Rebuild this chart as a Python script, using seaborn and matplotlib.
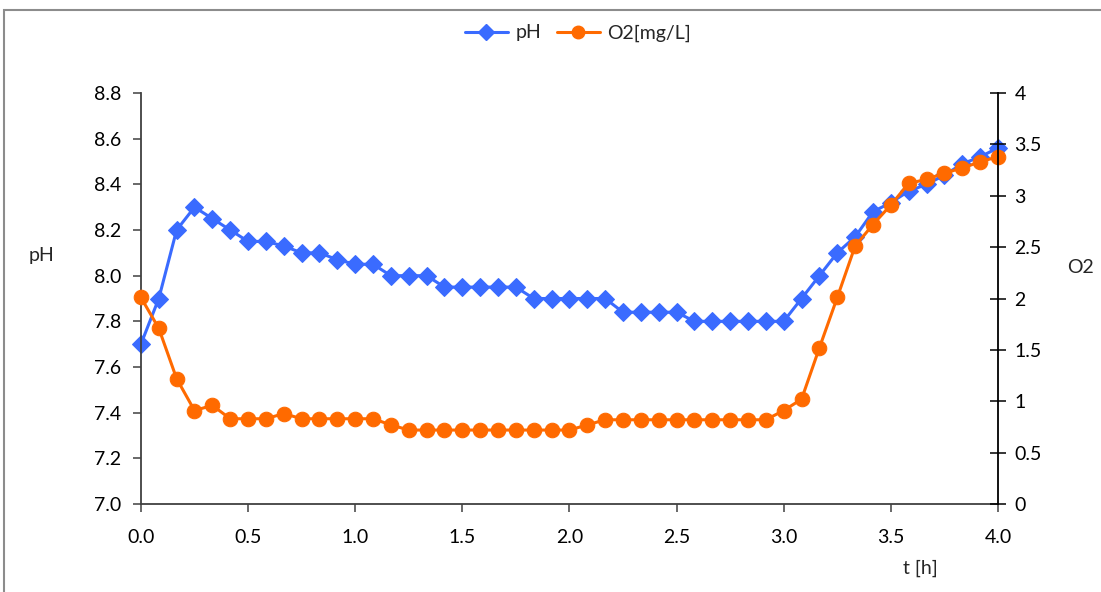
import numpy as np
import pandas as pd
import matplotlib
matplotlib.use('Agg')
import matplotlib.pyplot as plt
from matplotlib.patches import Rectangle
from matplotlib.lines import Line2D
import seaborn as sns

# time in hours, one reading every 5 min
t = [i / 12 for i in range(49)]

ph = [7.70, 7.90, 8.20, 8.30, 8.25, 8.20, 8.15, 8.15, 8.13, 8.10,
      8.10, 8.07, 8.05, 8.05, 8.00, 8.00, 8.00, 7.95, 7.95, 7.95,
      7.95, 7.95, 7.90, 7.90, 7.90, 7.90, 7.90, 7.84, 7.84, 7.84,
      7.84, 7.80, 7.80, 7.80, 7.80, 7.80, 7.80, 7.90, 8.00, 8.10,
      8.17, 8.28, 8.32, 8.37, 8.40, 8.44, 8.49, 8.52, 8.56]

o2 = [2.01, 1.71, 1.22, 0.91, 0.96, 0.83, 0.83, 0.83, 0.88, 0.83,
      0.83, 0.83, 0.83, 0.83, 0.77, 0.72, 0.72, 0.72, 0.72, 0.72,
      0.72, 0.72, 0.72, 0.72, 0.72, 0.77, 0.82, 0.82, 0.82, 0.82,
      0.82, 0.82, 0.82, 0.82, 0.82, 0.82, 0.91, 1.02, 1.52, 2.01,
      2.51, 2.72, 2.91, 3.12, 3.16, 3.22, 3.27, 3.33, 3.38]

df = pd.DataFrame({'t': t, 'pH': ph, 'O2': o2})

blue = '#3A6BFF'
orange = '#FF6A00'
fs = 14

sns.set_style('white')
plt.rcParams['font.family'] = ['Lato', 'DejaVu Sans']

fig = plt.figure(figsize=(11.01, 5.92), dpi=100)
ax = fig.add_axes([0.128, 0.1486, 0.7784, 0.6943])
ax2 = ax.twinx()

sns.lineplot(data=df, x='t', y='pH', ax=ax, color=blue, lw=2.2,
             marker='D', markersize=9, markeredgecolor=blue)
sns.lineplot(data=df, x='t', y='O2', ax=ax2, color=orange, lw=2.2,
             marker='o', markersize=10.5, markeredgecolor=orange)
for ln in ax.lines + ax2.lines:
    ln.set_clip_on(False)

ax.set_xlim(0, 4)
ax.set_ylim(7.0, 8.8)
ax2.set_ylim(0, 4)
ax.set_xticks(np.arange(0, 4.01, 0.5))
ax.set_xticklabels(['%.1f' % v for v in np.arange(0, 4.01, 0.5)])
ax.set_yticks(np.arange(7.0, 8.81, 0.2))
ax.set_yticklabels(['%.1f' % v for v in np.arange(7.0, 8.81, 0.2)])
ax2.set_yticks(np.arange(0, 4.01, 0.5))
ax2.set_yticklabels(['0', '0.5', '1', '1.5', '2', '2.5', '3', '3.5', '4'])

for a in (ax, ax2):
    a.spines['top'].set_visible(False)
    a.set_xlabel('')
    a.set_ylabel('')
ax.spines['right'].set_visible(False)
ax2.spines['left'].set_visible(False)
ax2.spines['bottom'].set_visible(False)
for s in ('left', 'bottom'):
    ax.spines[s].set_color('#404040')
    ax.spines[s].set_linewidth(1.3)
ax2.spines['right'].set_color('black')
ax2.spines['right'].set_linewidth(1.3)

ax.tick_params(axis='both', direction='out', length=6, width=1.1,
               color='#404040', labelcolor='black', labelsize=fs, pad=8,
               left=True, bottom=True)
ax.tick_params(axis='x', pad=12)
ax2.tick_params(axis='y', direction='inout', length=12, width=1.1,
                color='black', labelcolor='black', labelsize=fs, pad=6, right=True)

fig.text(42 / 1101, 1 - 256 / 592, 'pH', fontsize=fs, ha='center', va='center')
fig.text(1080 / 1101, 1 - 268 / 592, 'O2', fontsize=fs, ha='center', va='center')
fig.text(920 / 1101, 1 - 568 / 592, 't [h]', fontsize=fs, ha='center', va='center')

handles = [Line2D([], [], color=blue, lw=2.2, marker='D', markersize=8),
           Line2D([], [], color=orange, lw=2.2, marker='o', markersize=9)]
fig.legend(handles, ['pH', 'O2[mg/L]'], loc='center', ncol=2,
           bbox_to_anchor=(0.525, 1 - 33 / 592), frameon=False, fontsize=fs,
           handlelength=2.2, columnspacing=0.8, handletextpad=0.4)

fig.patches.append(Rectangle((4 / 1101, -0.1), 1.2, 1.1 - 10 / 592,
                             transform=fig.transFigure, fill=False,
                             edgecolor='#8C8C8C', lw=1.5))

fig.savefig('out.png', dpi=100)
